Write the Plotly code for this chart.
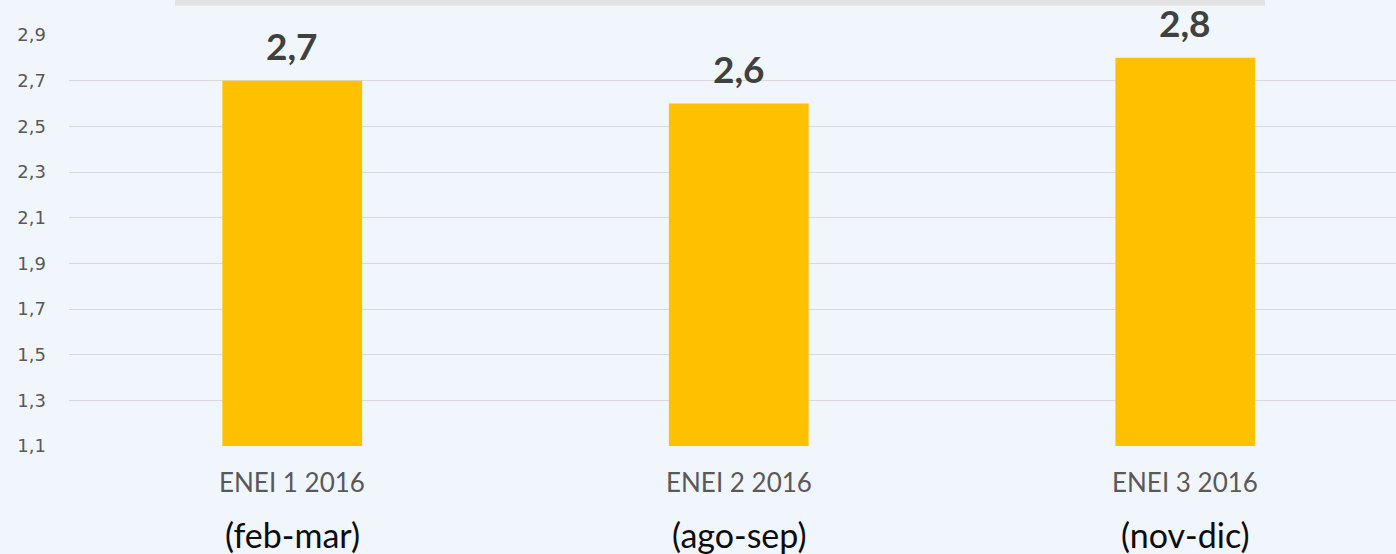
import plotly.graph_objects as go

categories = ["ENEI 1 2016", "ENEI 2 2016", "ENEI 3 2016"]
periods = ["(feb-mar)", "(ago-sep)", "(nov-dic)"]
values = [2.7, 2.6, 2.8]
tick_vals = [1.1, 1.3, 1.5, 1.7, 1.9, 2.1, 2.3, 2.5, 2.7, 2.9]

W, H = 1396, 554
ML, MR, MT, MB = 69, 0, 35, 108
PH = H - MT - MB


def py(px):
    """pixel row -> paper y"""
    return (H - MB - px) / PH


fig = go.Figure()
fig.add_trace(go.Bar(
    x=categories, y=values, base=0,
    marker=dict(color="#FFC000", line=dict(width=0)),
    width=0.313,
    hoverinfo="skip",
))

for c, v in zip(categories, values):
    fig.add_annotation(x=c, xref="x", y=v, yref="y", yanchor="bottom",
                       text=f"{v:.1f}".replace(".", ","), showarrow=False, yshift=11,
                       font=dict(family="Lato", size=37, color="#404040", weight="bold"))

for c in categories:
    fig.add_annotation(x=c, xref="x", y=py(482), yref="paper", yanchor="middle",
                       text=c, showarrow=False,
                       font=dict(family="Lato", size=26, color="#595959"))

for c, p in zip(categories, periods):
    fig.add_annotation(x=c, xref="x", y=py(534), yref="paper", yanchor="middle",
                       text=p, showarrow=False,
                       font=dict(family="Lato", size=34, color="#0d0d0d"))

# partially visible title box at top
fig.add_shape(type="rect", xref="paper", yref="paper",
              x0=(175 - ML) / (W - ML - MR), x1=(1265 - ML) / (W - ML - MR),
              y0=py(5.7), y1=py(-20), fillcolor="#E3E3E3", line=dict(width=0), layer="below")

fig.update_layout(
    width=W, height=H,
    margin=dict(l=ML, r=MR, t=MT, b=MB),
    paper_bgcolor="#F1F6FD",
    plot_bgcolor="rgba(0,0,0,0)",
    separators=",.",
    showlegend=False,
    xaxis=dict(range=[-0.5, 2.472], showgrid=False, zeroline=False, showline=False,
               ticks="", showticklabels=False),
    yaxis=dict(range=[1.1, 2.9], tickvals=tick_vals, tickformat=".1f",
               showgrid=True, gridcolor="#D9D9D9", gridwidth=1, zeroline=False,
               showline=False, ticks="", ticklabelstandoff=22,
               tickfont=dict(family="DejaVu Sans", size=18, color="#595959")),
)

fig.write_html("out.html", config={"displayModeBar": False},
               post_script="document.body.style.margin='0';")
